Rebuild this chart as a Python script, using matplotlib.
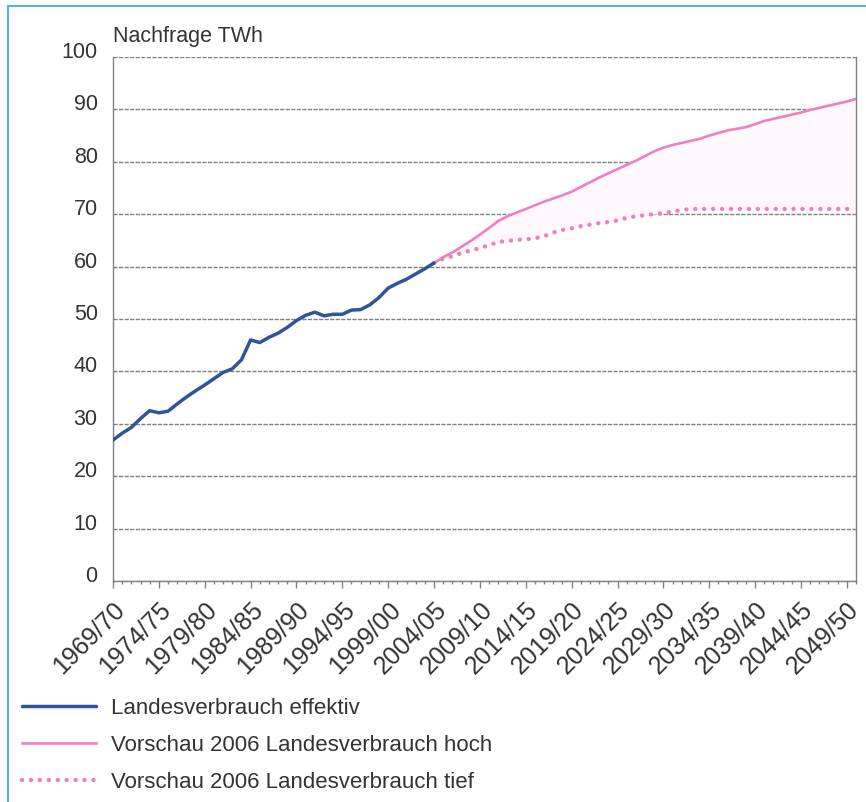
import numpy as np
import matplotlib
matplotlib.use("Agg")
import matplotlib.pyplot as plt
from matplotlib.transforms import ScaledTranslation
from matplotlib.lines import Line2D

plt.rcParams['font.family'] = ['Liberation Sans', 'DejaVu Sans']

# years (start year of the hydrological year, e.g. 1969 -> 1969/70)
years_eff = list(range(1969, 2005))
eff = [26.9, 28.2, 29.3, 31.0, 32.5, 32.1, 32.4, 33.8, 35.1, 36.3,
       37.4, 38.6, 39.8, 40.5, 42.2, 46.0, 45.5, 46.5, 47.3, 48.4,
       49.7, 50.7, 51.3, 50.6, 50.9, 50.9, 51.7, 51.8, 52.7, 54.1,
       55.9, 56.8, 57.6, 58.6, 59.6, 60.7]

years_fc = list(range(2004, 2051))
hoch = [60.7, 61.8, 62.7, 63.8, 64.9, 66.1, 67.4, 68.7, 69.6, 70.3,
        71.0, 71.7, 72.4, 73.0, 73.6, 74.3, 75.2, 76.1, 77.0, 77.8,
        78.6, 79.4, 80.2, 81.1, 82.0, 82.7, 83.2, 83.6, 84.0, 84.4,
        85.0, 85.5, 86.0, 86.3, 86.6, 87.2, 87.8, 88.2, 88.6, 89.0,
        89.4, 89.9, 90.3, 90.7, 91.1, 91.5, 92.0]
tief = [60.7, 61.5, 62.0, 62.6, 63.1, 63.5, 64.1, 64.7, 64.9, 65.1,
        65.2, 65.4, 65.8, 66.5, 67.0, 67.3, 67.7, 68.0, 68.3, 68.5,
        68.8, 69.3, 69.6, 69.8, 70.0, 70.2, 70.5, 70.8, 71.0, 71.0,
        71.0, 71.0, 71.0, 71.0, 71.0, 71.0, 71.0, 71.0, 71.0, 71.0,
        71.0, 71.0, 71.0, 71.0, 71.0, 71.0, 71.0]

labels = ['Landesverbrauch effektiv',
          'Vorschau 2006 Landesverbrauch hoch',
          'Vorschau 2006 Landesverbrauch tief']

blue = '#2e5597'
pink = '#ee80c2'
txt = '#333333'
grid = '#808080'

fig = plt.figure(figsize=(8.66, 8.02), dpi=100)
ax = fig.add_axes([113/866, 1-581/802, (856-113)/866, (581-57)/802])

ax.fill_between(years_fc, tief, hoch, color='#fef7fb', lw=0)
l1, = ax.plot(years_eff, eff, color=blue, lw=2.5, solid_capstyle='round', zorder=4)
l2, = ax.plot(years_fc, hoch, color=pink, lw=1.9, zorder=3)
l3, = ax.plot(years_fc, tief, color=pink, lw=3.2, linestyle=(0, (0.01, 2.0)),
              dash_capstyle='round', zorder=3)

ax.set_xlim(1969, 2050)
ax.set_ylim(0, 100)

ax.set_yticks(np.arange(0, 101, 10))
ax.yaxis.grid(True, color=grid, lw=1.0, linestyle=(0, (3, 1)))
ax.set_axisbelow(True)
ax.tick_params(axis='y', length=0, pad=11, labelsize=15.5, labelcolor=txt)
for lab in ax.get_yticklabels():
    lab.set_transform(lab.get_transform() + ScaledTranslation(0, 5/72, fig.dpi_scale_trans))

major = list(range(1969, 2050, 5))
ax.set_xticks(major)
ax.set_xticklabels([f"{y}/{(y + 1) % 100:02d}" for y in major],
                   rotation=45, ha='right', va='top', rotation_mode='anchor')
ax.set_xticks(list(range(1969, 2051)), minor=True)
ax.tick_params(axis='x', which='major', length=5, width=1, color=grid,
               pad=7, labelsize=18, labelcolor=txt)
ax.tick_params(axis='x', which='minor', length=2.5, width=1, color=grid)

for s in ['left', 'right', 'bottom']:
    ax.spines[s].set_color(grid)
    ax.spines[s].set_linewidth(1.0)
ax.spines['top'].set_visible(False)

fig.text(113/866, 1-42/802, 'Nachfrage TWh', fontsize=15.5, color=txt,
         ha='left', va='baseline')

fig.legend([l1, l2, l3], labels, loc='upper left', bbox_to_anchor=(22/866, 1-698/802),
           frameon=False, fontsize=16, handlelength=3.35, handletextpad=0.65,
           labelspacing=0.72, borderpad=0, borderaxespad=0, labelcolor=txt)

# light blue frame of the figure
fig.add_artist(Line2D([8/866, 8/866], [0, 1-6/802], color='#5bb4e0', lw=1.5))
fig.add_artist(Line2D([8/866, 1], [1-6/802, 1-6/802], color='#5bb4e0', lw=1.5))

fig.savefig('out.png', dpi=100)
